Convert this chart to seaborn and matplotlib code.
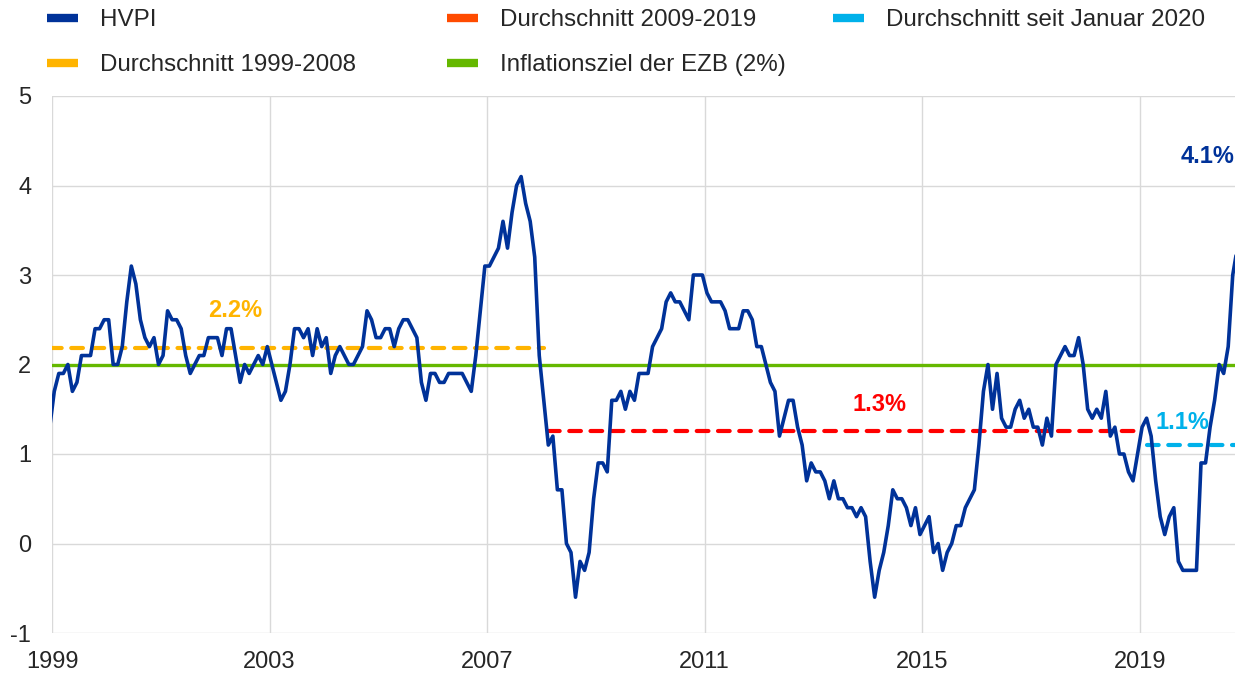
import numpy as np
import pandas as pd
import matplotlib
matplotlib.use("Agg")
from matplotlib import pyplot as plt
from matplotlib.lines import Line2D
import seaborn as sns

# HVPI, jaehrliche Rate in %, monatlich ab Nov 1999
start_month = "1999-11"
hvpi = [
    1.3, 1.7, 1.9, 1.9, 2.0, 1.7, 1.8, 2.1, 2.1, 2.1, 2.4, 2.4,
    2.5, 2.5, 2.0, 2.0, 2.2, 2.7, 3.1, 2.9, 2.5, 2.3, 2.2, 2.3,
    2.0, 2.1, 2.6, 2.5, 2.5, 2.4, 2.1, 1.9, 2.0, 2.1, 2.1, 2.3,
    2.3, 2.3, 2.1, 2.4, 2.4, 2.1, 1.8, 2.0, 1.9, 2.0, 2.1, 2.0,
    2.2, 2.0, 1.8, 1.6, 1.7, 2.0, 2.4, 2.4, 2.3, 2.4, 2.1, 2.4,
    2.2, 2.3, 1.9, 2.1, 2.2, 2.1, 2.0, 2.0, 2.1, 2.2, 2.6, 2.5,
    2.3, 2.3, 2.4, 2.4, 2.2, 2.4, 2.5, 2.5, 2.4, 2.3, 1.8, 1.6,
    1.9, 1.9, 1.8, 1.8, 1.9, 1.9, 1.9, 1.9, 1.8, 1.7, 2.1, 2.6,
    3.1, 3.1, 3.2, 3.3, 3.6, 3.3, 3.7, 4.0, 4.1, 3.8, 3.6, 3.2,
    2.1, 1.6, 1.1, 1.2, 0.6, 0.6, 0.0, -0.1, -0.6, -0.2, -0.3, -0.1,
    0.5, 0.9, 0.9, 0.8, 1.6, 1.6, 1.7, 1.5, 1.7, 1.6, 1.9, 1.9,
    1.9, 2.2, 2.3, 2.4, 2.7, 2.8, 2.7, 2.7, 2.6, 2.5, 3.0, 3.0,
    3.0, 2.8, 2.7, 2.7, 2.7, 2.6, 2.4, 2.4, 2.4, 2.6, 2.6, 2.5,
    2.2, 2.2, 2.0, 1.8, 1.7, 1.2, 1.4, 1.6, 1.6, 1.3, 1.1, 0.7,
    0.9, 0.8, 0.8, 0.7, 0.5, 0.7, 0.5, 0.5, 0.4, 0.4, 0.3, 0.4,
    0.3, -0.2, -0.6, -0.3, -0.1, 0.2, 0.6, 0.5, 0.5, 0.4, 0.2, 0.4,
    0.1, 0.2, 0.3, -0.1, 0.0, -0.3, -0.1, 0.0, 0.2, 0.2, 0.4, 0.5,
    0.6, 1.1, 1.7, 2.0, 1.5, 1.9, 1.4, 1.3, 1.3, 1.5, 1.6, 1.4,
    1.5, 1.3, 1.3, 1.1, 1.4, 1.2, 2.0, 2.1, 2.2, 2.1, 2.1, 2.3,
    2.0, 1.5, 1.4, 1.5, 1.4, 1.7, 1.2, 1.3, 1.0, 1.0, 0.8, 0.7,
    1.0, 1.3, 1.4, 1.2, 0.7, 0.3, 0.1, 0.3, 0.4, -0.2, -0.3, -0.3,
    -0.3, -0.3, 0.9, 0.9, 1.3, 1.6, 2.0, 1.9, 2.2, 3.0, 3.3,
]

avg_names = ["Durchschnitt 1999-2008", "Durchschnitt 2009-2019", "Durchschnitt seit Januar 2020"]
avg_values = [2.18, 1.26, 1.1]
avg_start = ["1999-11", "2009-01", "2020-01"]
avg_end = ["2008-12", "2019-12", "2021-09"]
avg_labels = ["2.2%", "1.3%", "1.1%"]
target = 2.0
latest_label = "4.1%"
tick_labels = ["1999", "2003", "2007", "2011", "2015", "2019"]

blue = "#003299"
avg_colors = ["#ffb400", "#ff0000", "#00b1ea"]
legend_colors = ["#ffb400", "#ff4b00", "#00b1ea"]
green = "#65b800"

sns.set_theme(style="whitegrid", rc={"grid.color": "#d9d9d9", "grid.linewidth": 1.0})
plt.rcParams["font.family"] = ["Liberation Sans", "DejaVu Sans"]
plt.rcParams["axes.unicode_minus"] = False
fs = 17

months = pd.period_range(start_month, periods=len(hvpi), freq="M")
df = pd.DataFrame({"t": np.arange(len(hvpi)), "hvpi": hvpi})
pos = lambda p: months.get_loc(pd.Period(p, "M"))

fig = plt.figure(figsize=(12.35, 6.73), dpi=100)
ax = fig.add_axes([52 / 1235, 40 / 673, 1183 / 1235, 537 / 673])

ax.axhline(target, color=green, lw=2.4, zorder=2)
dash = (0, (2.8, 2.3))
for v, s, e, c in zip(avg_values, avg_start, avg_end, avg_colors):
    ax.plot([pos(s), pos(e)], [v, v], color=c, lw=3, linestyle=dash,
            dash_capstyle="round", zorder=3)
sns.lineplot(data=df, x="t", y="hvpi", ax=ax, color=blue, lw=2.6, zorder=4)

ax.set_xlim(0.5, len(hvpi) - 1.5)
ax.set_ylim(-1, 5)
ax.set_xticks([0.5 + 48 * i for i in range(len(tick_labels))])
ax.set_xticklabels(tick_labels)
ax.set_yticks(range(-1, 6))
ax.set_xlabel("")
ax.set_ylabel("")
ax.tick_params(axis="x", length=0, pad=13, labelsize=fs)
ax.tick_params(axis="y", length=0, pad=15, labelsize=fs)
for sp in ax.spines.values():
    sp.set_visible(False)

# Beschriftungen
ax.text(41, 2.6, avg_labels[0], color=avg_colors[0], fontsize=fs, fontweight="bold",
        ha="center", va="center")
ax.text(183, 1.55, avg_labels[1], color=avg_colors[1], fontsize=fs, fontweight="bold",
        ha="center", va="center")
ax.text(249.8, 1.35, avg_labels[2], color=avg_colors[2], fontsize=fs, fontweight="bold",
        ha="center", va="center")
ax.text(len(hvpi) - 1.7, 4.32, latest_label, color=blue, fontsize=fs, fontweight="bold",
        ha="right", va="center", clip_on=False)

# Legende in drei Spalten
def handle(c):
    return Line2D([], [], color=c, lw=6, solid_capstyle="butt")

cols = [
    ([handle(blue), handle(legend_colors[0])], ["HVPI", avg_names[0]], 47),
    ([handle(legend_colors[1]), handle(green)], [avg_names[1], "Inflationsziel der EZB (2%)"], 447),
    ([handle(legend_colors[2])], [avg_names[2]], 833),
]
for hs, ls, x0 in cols:
    fig.legend(hs, ls, loc="upper left", bbox_to_anchor=(x0 / 1235, 1 - 9 / 673),
               frameon=False, fontsize=17.4, handlelength=1.3, handletextpad=0.9,
               labelspacing=0.95, borderpad=0, borderaxespad=0)

fig.savefig("out.png", dpi=100)
